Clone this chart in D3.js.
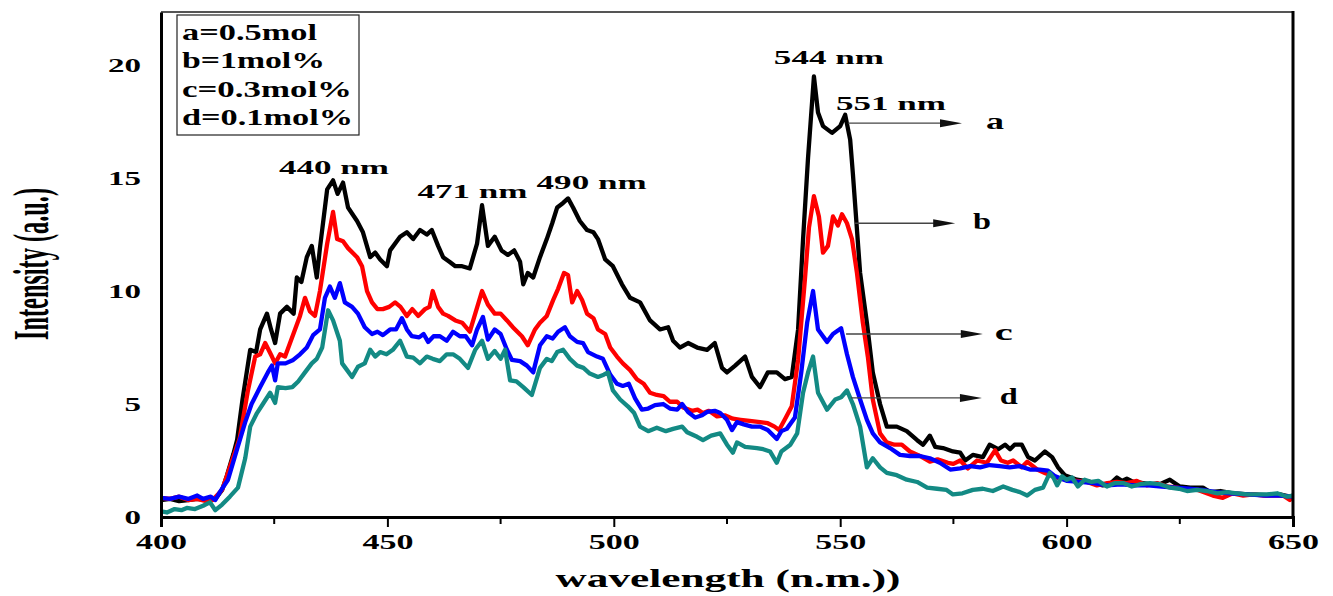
<!DOCTYPE html>
<html>
<head>
<meta charset="utf-8">
<script src="https://cdn.jsdelivr.net/npm/d3@7"></script>
<style>
  html, body { margin: 0; padding: 0; background: #fff; }
  svg { display: block; }
</style>
</head>
<body>
<svg id="chart" width="1333" height="596"></svg>
<script>
// wavelength (nm) / intensity (a.u.)
const seriesA = [[400,0.75],[402,0.8],[404,0.7],[406,0.75],[408,0.8],[410,0.75],[412,0.8],[413.5,1.2],[414.5,1.8],[416,2.8],[416.8,3.4],[418,5.2],[419.7,7.4],[421,7.3],[421.9,8.3],[423.4,9.0],[424.3,8.3],[425.2,7.7],[426.3,9.0],[427.8,9.3],[429.3,9.0],[430,10.6],[431,10.4],[432.2,11.5],[433.3,12.0],[434.4,10.6],[435.1,11.9],[436.7,14.5],[438,14.9],[439,14.3],[440.2,14.8],[441.3,13.7],[443.3,13.1],[444.6,12.6],[446.2,11.5],[447.3,11.7],[448.4,11.4],[449.9,11.1],[450.6,11.8],[452.8,12.4],[454.3,12.6],[455.7,12.3],[457.2,12.7],[458.7,12.5],[459.8,12.7],[461.2,12.0],[462.3,11.5],[463.7,11.3],[465,11.1],[466.5,11.1],[468.2,11.0],[469.8,12.1],[470.9,13.8],[472.2,12.0],[473.7,12.4],[475.2,11.8],[476.6,11.6],[478,11.8],[479.3,11.3],[480,10.3],[481,10.8],[482.2,10.6],[483.7,11.5],[485.2,12.3],[486.4,13.0],[487.5,13.7],[488.8,13.9],[489.9,14.1],[491,13.7],[492.5,13.1],[494.1,12.7],[495.5,12.6],[496.5,12.3],[498.1,11.4],[499.8,11.1],[501.8,10.3],[503.6,9.7],[505.8,9.5],[508,8.7],[510.2,8.3],[512,8.4],[513.1,7.8],[514.6,7.5],[516.4,7.7],[518.4,7.5],[520.6,7.4],[522.3,7.7],[523.9,6.6],[525,6.4],[526.8,6.7],[529,7.1],[530.5,6.2],[532.3,5.75],[534,6.4],[536,6.4],[537.8,6.1],[539.3,6.2],[540.7,8.3],[541.8,12.3],[542.9,15.9],[544.2,19.5],[545.1,17.9],[546.2,17.3],[548.2,17.0],[550,17.3],[551.1,17.8],[552.2,16.7],[552.8,15.2],[554.4,10.8],[555.9,8.6],[557.2,6.4],[558.8,5.0],[560.3,4.0],[562.5,4.0],[564.7,3.8],[567,3.4],[568.3,3.2],[569.8,3.6],[571,3.1],[572.7,3.05],[574.9,2.9],[576.5,2.85],[577.6,2.5],[579.3,2.75],[581.5,2.65],[583,3.2],[584.9,3.0],[586.4,3.2],[587.5,3.0],[588.5,3.2],[590.1,3.2],[591.5,2.65],[593,2.5],[595.2,2.9],[596.8,2.65],[598.1,2.2],[599.6,1.85],[602.3,1.65],[605.2,1.55],[608,1.4],[609.5,1.45],[611.1,1.75],[612.2,1.6],[613.3,1.7],[614.7,1.55],[616.9,1.5],[620,1.4],[622.8,1.65],[625,1.35],[627.3,1.3],[630.1,1.3],[631.7,1.1],[634,1.15],[636.7,1.05],[640.5,1.0],[644.2,0.97],[647.1,1.0],[649.3,0.9],[650,0.95]];

const seriesB = [[400,0.85],[402,0.8],[404,0.9],[406,0.75],[408,0.8],[410,0.7],[411.4,0.75],[413.5,1.2],[415.2,2.2],[417.4,3.5],[419.2,5.6],[420.8,7.1],[421.9,7.2],[423,7.7],[424.5,7.1],[425.2,6.8],[426.3,7.2],[427.4,7.1],[428.5,7.7],[429.6,8.3],[430.7,8.9],[431.8,9.7],[432.9,9.1],[434,8.9],[435.1,10.0],[436.7,12.1],[438,13.5],[438.9,12.3],[440.2,12.2],[441.3,11.9],[443.3,11.5],[444.4,11.1],[445.5,10.0],[446.6,9.5],[447.8,9.2],[449,9.2],[450.4,9.3],[451.7,9.5],[452.9,9.3],[454.3,8.9],[455.5,9.2],[456.8,8.9],[458.3,9.2],[459.3,9.3],[460,10.0],[461.2,9.3],[462.3,9.0],[463.4,8.9],[465,8.7],[466.5,8.6],[468.2,8.2],[469.4,9.0],[470.9,10.0],[472.2,9.4],[473.7,9.0],[475,9.0],[476.4,8.7],[477.7,8.4],[479.7,8.0],[481,7.6],[482.6,8.3],[483.7,8.6],[485.2,8.9],[486.6,9.6],[487.7,10.1],[489,10.8],[489.9,10.7],[490.8,9.5],[491.9,10.0],[493,9.6],[494.1,9.0],[495.5,8.8],[496.5,8.3],[498.1,8.1],[499.2,7.5],[500.7,7.1],[502,6.8],[503.6,6.5],[505.1,6.1],[506.6,5.9],[508,5.5],[509.5,5.4],[511,5.35],[512.4,5.1],[514,5.1],[515.3,4.85],[517.3,4.7],[518.5,4.75],[519.7,4.6],[521,4.7],[522.8,4.45],[524.5,4.5],[526.3,4.35],[528,4.3],[530,4.25],[532.3,4.2],[534,4.15],[535.5,4.0],[536.5,3.85],[538,4.4],[539.3,4.9],[540.7,6.95],[542.2,10.5],[543.1,12.8],[544.2,14.2],[545.3,13.3],[546.2,11.7],[547.3,12.0],[548.4,13.3],[549.5,12.9],[550.4,13.4],[551.5,13.0],[552.6,12.3],[553.7,10.8],[555,8.6],[556.1,7.1],[557.2,5.2],[558.8,3.7],[560.3,3.3],[562,3.2],[563.6,3.2],[565.4,2.9],[567.6,2.7],[569.8,2.45],[571.5,2.55],[573.8,2.4],[575,2.35],[576.5,2.5],[578.2,2.15],[580.2,2.5],[582.4,2.4],[584.2,2.95],[585.5,2.5],[587,2.4],[588.2,2.5],[590.1,2.2],[591.3,2.45],[593.5,2.1],[595.2,1.95],[597,1.8],[598.5,1.7],[600,1.65],[602.3,1.6],[604.5,1.55],[606.7,1.4],[609,1.5],[611.1,1.55],[613.3,1.5],[615.5,1.6],[617.7,1.4],[620,1.5],[622.2,1.35],[624.4,1.3],[626.6,1.2],[629,1.2],[632.3,0.95],[634.5,0.85],[636.7,1.05],[639,0.95],[641.2,1.0],[643.5,0.95],[645.6,0.95],[647.8,0.95],[649.3,0.75],[650,0.95]];

const seriesC = [[400,0.85],[402,0.8],[404,0.9],[406,0.8],[408,0.95],[409.3,0.8],[411,0.9],[412,0.75],[413,1.1],[414.8,1.65],[416.8,3.0],[418.6,4.2],[420,5.0],[421.9,5.75],[423.6,6.4],[424.5,6.7],[425.2,6.05],[425.8,6.8],[427.5,6.8],[429.2,6.95],[430.7,7.2],[432.2,7.5],[433.6,8.05],[435.1,8.3],[436.2,9.7],[437.3,10.2],[438.4,9.7],[439.5,10.35],[440.6,9.5],[442.2,9.3],[443.5,9.0],[445,8.4],[446.6,8.1],[447.8,8.2],[449,8.05],[450.6,8.3],[451.9,8.3],[453.2,8.8],[454.3,8.3],[455.4,8.0],[457,7.95],[458,8.1],[459,7.75],[460.2,8.0],[461.6,8.0],[463.1,7.8],[464.5,8.2],[466,8.0],[467.3,8.0],[468.7,7.6],[469.8,8.3],[471.1,8.85],[472.2,7.85],[473.7,8.3],[475,8.1],[476.4,7.4],[477.5,6.95],[479.3,6.9],[480.8,6.7],[482.2,6.4],[483.7,7.6],[485.2,8.0],[486.5,7.9],[487.7,8.2],[489.2,8.4],[490.3,8.0],[491.9,7.75],[493.2,7.7],[494.3,7.3],[496.3,7.1],[497.6,7.0],[499.2,6.3],[500.7,5.9],[502,5.8],[503.3,5.9],[504.7,5.25],[506.2,4.75],[507.6,4.8],[509.1,4.95],[510.9,5.0],[512.4,4.8],[514,4.75],[515.1,5.0],[516.4,4.65],[518,4.4],[519.5,4.5],[520.6,4.65],[522.3,4.7],[523.5,4.6],[525,4.3],[526.1,3.85],[527.2,4.2],[528.7,4.1],[530.5,4.0],[532.3,4.0],[534,3.85],[536,3.45],[537,3.8],[538.2,3.9],[540,4.4],[541.4,6.4],[542.7,8.6],[544,10.0],[545.1,8.3],[547.1,7.75],[548.4,8.1],[550.2,8.35],[551.5,7.2],[552.8,6.2],[554.4,5.2],[555.9,4.3],[557.2,3.7],[558.8,3.3],[561,3.05],[563.2,2.75],[565.4,2.7],[567.6,2.7],[569.8,2.6],[572,2.4],[574.3,2.1],[576.5,2.15],[578.7,2.25],[580.9,2.2],[583,2.3],[585.2,2.25],[587.4,2.2],[589.6,2.25],[591.9,2.1],[594,2.1],[595.9,2.05],[597.5,1.8],[600,1.6],[603,1.55],[606,1.5],[609,1.4],[612,1.45],[615,1.4],[618,1.4],[621,1.35],[624,1.3],[627,1.25],[630,1.2],[633,1.1],[636,1.05],[640,1.0],[644,0.95],[647,0.95],[650,0.9]];

const seriesD = [[400,0.25],[401.3,0.2],[403,0.35],[404.5,0.3],[405.7,0.4],[407.5,0.35],[409.3,0.5],[410.8,0.65],[412,0.3],[413.5,0.55],[415.2,0.9],[417,1.3],[418.6,2.6],[419.7,4.0],[421.2,4.6],[422.5,5.0],[424.1,5.5],[425.2,5.05],[425.8,5.75],[427.5,5.7],[429,5.75],[430.3,6.0],[431.8,6.4],[433.3,6.8],[434.4,7.0],[435.6,7.5],[436.9,9.15],[438,8.7],[439.5,7.8],[440,6.8],[441.1,6.5],[442.2,6.2],[443.5,6.65],[445,6.8],[446.2,7.4],[447.3,7.1],[448.4,7.3],[449.8,7.2],[451.2,7.4],[452.8,7.8],[454.3,7.1],[455.7,7.05],[457.2,6.8],[458.7,7.1],[460,7.0],[461.6,6.9],[463.1,7.2],[464.5,7.2],[466,7.0],[467.8,6.6],[469.4,7.4],[470.9,7.8],[472.2,7.0],[473.7,7.35],[475,7.0],[476,7.4],[477.1,6.05],[478.5,6.0],[480,5.75],[481.9,5.4],[483.7,6.6],[485.2,7.0],[486.3,6.9],[487.5,7.3],[488.8,7.4],[490.3,7.0],[491.9,6.7],[493.3,6.6],[494.7,6.35],[496.5,6.2],[497.8,6.3],[498.7,6.4],[499.8,5.6],[501.4,5.2],[503.1,4.9],[504.5,4.6],[505.8,4.0],[507.6,3.8],[509.5,3.95],[511.5,3.8],[513.1,3.9],[515.1,4.0],[516.2,3.75],[518.4,3.55],[519.7,3.4],[521.5,3.6],[523.5,3.7],[525,3.2],[526.3,2.85],[527.2,3.3],[529,3.1],[531.6,3.05],[533,3.0],[534.5,2.9],[536,2.4],[537,2.9],[539,3.2],[540.5,3.7],[541.8,5.5],[542.9,6.4],[544,7.1],[545.1,5.5],[547.1,4.75],[548.9,5.2],[550.2,5.3],[551.5,5.6],[552.8,5.0],[554.4,4.0],[555.9,2.2],[557.2,2.6],[558.8,2.2],[560.3,1.95],[562.5,1.85],[564.7,1.65],[567,1.55],[569.2,1.3],[571.4,1.25],[573.5,1.2],[574.9,1.0],[577,1.05],[579.3,1.2],[581.5,1.25],[583.7,1.15],[586,1.35],[588,1.2],[589.7,1.1],[591.3,0.95],[593,1.2],[594.8,1.3],[596.3,1.95],[597.2,1.7],[597.9,1.4],[599,1.8],[600,1.65],[601.2,1.75],[602.5,1.35],[604,1.65],[605.5,1.55],[607,1.6],[608.9,1.35],[610.7,1.5],[612.5,1.5],[614.4,1.35],[616.2,1.45],[618.4,1.5],[620.6,1.45],[622.8,1.3],[624.8,1.25],[626.6,1.15],[628.8,1.2],[631,1.15],[633.3,1.05],[635.4,1.1],[637.6,1.05],[639.8,1.0],[642,1.0],[644.2,1.0],[646.5,1.05],[648.7,0.9],[650,0.95]];

const seriesKeys = ["a", "b", "c", "d"];
const legendLabels = ["a=0.5mol", "b=1mol%", "c=0.3mol%", "d=0.1mol%"];
const xTicks = [400, 450, 500, 550, 600, 650];
const xMinorTicks = [425, 475, 525, 575, 625];
const yTicks = [0, 5, 10, 15, 20];

const colors = ["#000000", "#ff0000", "#0000ff", "#138a84"];

// annotations, placed in data units (nm, a.u.)
const peakNotes = [
  { text: "440 nm", nm: 438.2, v: 15.2 },
  { text: "471 nm", nm: 468.8, v: 14.1 },
  { text: "490 nm", nm: 495.1, v: 14.5 },
  { text: "544 nm", nm: 547.5, v: 20.05 },
  { text: "551 nm", nm: 561.2, v: 18.0 }
];
const arrowNotes = [
  { key: "a", from: 551.7, to: 576.9, v: 17.43, labelNm: 584.2 },
  { key: "b", from: 553.3, to: 575.4, v: 13.0, labelNm: 581.3 },
  { key: "c", from: 551.3, to: 581.5, v: 8.1, labelNm: 586.1 },
  { key: "d", from: 552.4, to: 581.3, v: 5.27, labelNm: 587.2 }
];

const svg = d3.select("#chart");
const margin = { left: 161, right: 40, top: 12, bottom: 79 };
const W = 1333, H = 596;

const x = d3.scaleLinear().domain([400, 650]).range([margin.left, W - margin.right]);
const y = d3.scaleLinear().domain([0, 22.35]).range([H - margin.bottom, margin.top]);

const serif = "'Liberation Serif', 'Times New Roman', serif";

svg.append("rect").attr("width", W).attr("height", H).attr("fill", "#fff");

svg.append("defs").append("clipPath").attr("id", "plotClip")
  .append("rect")
  .attr("x", x(400)).attr("y", y.range()[1])
  .attr("width", x(650) - x(400)).attr("height", y.range()[0] - y.range()[1]);

// curves
const line = d3.line().x(d => x(d[0])).y(d => y(d[1]));
const allSeries = [seriesA, seriesB, seriesC, seriesD];
svg.append("g").attr("clip-path", "url(#plotClip)")
  .selectAll("path")
  .data(allSeries)
  .join("path")
  .attr("d", line)
  .attr("fill", "none")
  .attr("stroke", (d, i) => colors[i])
  .attr("stroke-width", 4.3)
  .attr("stroke-linejoin", "round");

// frame
svg.append("line").attr("x1", x(400)).attr("x2", x(650)).attr("y1", y(22.35)).attr("y2", y(22.35))
  .attr("stroke", "#555").attr("stroke-width", 2);
svg.append("line").attr("x1", x(650)).attr("x2", x(650)).attr("y1", y(22.35) - 1).attr("y2", y(0))
  .attr("stroke", "#000").attr("stroke-width", 3);

// x axis
const xAxis = svg.append("g").attr("transform", `translate(0,${y(0)})`)
  .call(d3.axisBottom(x).tickValues(xTicks).tickSize(10).tickFormat(d3.format("d")));
xAxis.select(".domain").attr("stroke-width", 3);
xAxis.selectAll(".tick line").attr("stroke-width", 2);
xAxis.selectAll(".tick text")
  .attr("y", 32).attr("dy", null)
  .attr("font-family", serif).attr("font-weight", "bold").attr("font-size", 20)
  .attr("fill", "#000")
  .attr("textLength", 51).attr("lengthAdjust", "spacingAndGlyphs");

svg.append("g").attr("transform", `translate(0,${y(0)})`)
  .selectAll("line").data(xMinorTicks).join("line")
  .attr("x1", d => x(d)).attr("x2", d => x(d))
  .attr("y1", 0).attr("y2", 7)
  .attr("stroke", "#000").attr("stroke-width", 2);

// y axis
const yAxis = svg.append("g").attr("transform", `translate(${x(400)},0)`)
  .call(d3.axisLeft(y).tickValues(yTicks).tickSize(0).tickPadding(20));
yAxis.select(".domain").attr("stroke-width", 3);
yAxis.selectAll(".tick text")
  .attr("font-family", serif).attr("font-weight", "bold").attr("font-size", 19)
  .attr("fill", "#000")
  .attr("textLength", d => String(d).length * 16.5).attr("lengthAdjust", "spacingAndGlyphs");

// axis titles
svg.append("text")
  .attr("x", (x(400) + x(650)) / 2 + 1).attr("y", 587)
  .attr("text-anchor", "middle")
  .attr("font-family", serif).attr("font-weight", "bold").attr("font-size", 26)
  .attr("textLength", 345).attr("lengthAdjust", "spacingAndGlyphs")
  .text("wavelength (n.m.))");

svg.append("text")
  .attr("transform", "translate(48,264) rotate(-90)")
  .attr("text-anchor", "middle")
  .attr("font-family", serif).attr("font-weight", "bold").attr("font-size", 50)
  .attr("textLength", 152).attr("lengthAdjust", "spacingAndGlyphs")
  .text("Intensity (a.u.)");

// legend box
const legend = svg.append("g");
legend.append("rect")
  .attr("x", 177).attr("y", 15).attr("width", 182).attr("height", 120)
  .attr("fill", "#fff").attr("stroke", "#222").attr("stroke-width", 1.2);
const legendWidths = [135, 143, 170, 171];
legend.selectAll("text").data(legendLabels).join("text")
  .attr("x", 182).attr("y", (d, i) => 40 + i * 28.4)
  .attr("font-family", serif).attr("font-weight", "bold").attr("font-size", 23)
  .attr("textLength", (d, i) => legendWidths[i]).attr("lengthAdjust", "spacingAndGlyphs")
  .text(d => d);

// peak labels
svg.append("g").selectAll("text").data(peakNotes).join("text")
  .attr("x", d => x(d.nm)).attr("y", d => y(d.v))
  .attr("text-anchor", "middle")
  .attr("font-family", serif).attr("font-weight", "bold").attr("font-size", 19)
  .attr("textLength", 110).attr("lengthAdjust", "spacingAndGlyphs")
  .text(d => d.text);

// arrows to series letters
const arrows = svg.append("g");
arrows.selectAll("line").data(arrowNotes).join("line")
  .attr("x1", d => x(d.from)).attr("x2", d => x(d.to) - 18)
  .attr("y1", d => y(d.v)).attr("y2", d => y(d.v))
  .attr("stroke", "#444").attr("stroke-width", 1.3);
arrows.selectAll("path").data(arrowNotes).join("path")
  .attr("d", d => {
    const tx = x(d.to), ty = y(d.v);
    return `M${tx},${ty} L${tx - 22},${ty - 4} L${tx - 22},${ty + 4} Z`;
  })
  .attr("fill", "#111");
arrows.selectAll("text").data(arrowNotes).join("text")
  .attr("x", d => x(d.labelNm)).attr("y", d => y(d.v) + 6)
  .attr("text-anchor", "middle")
  .attr("font-family", serif).attr("font-weight", "bold").attr("font-size", 23)
  .attr("textLength", 18).attr("lengthAdjust", "spacingAndGlyphs")
  .text(d => d.key);
</script>
</body>
</html>
